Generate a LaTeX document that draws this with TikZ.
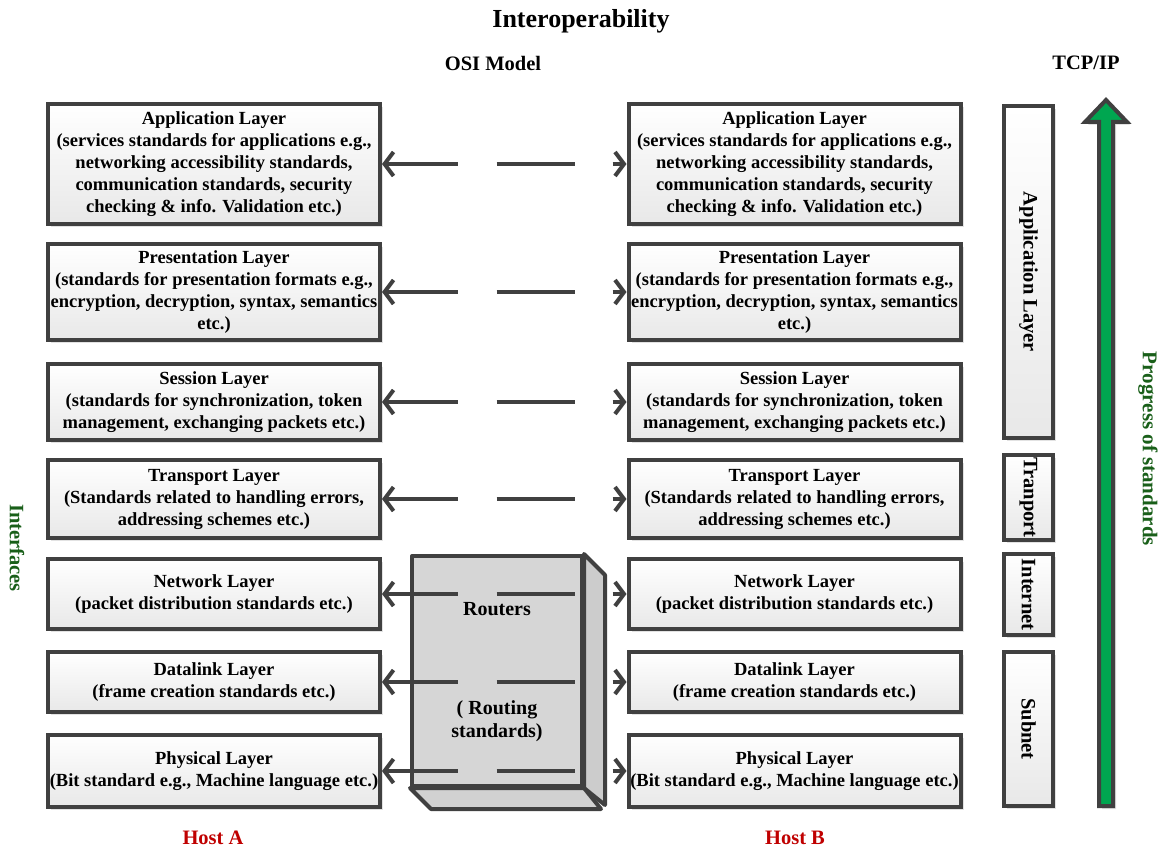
\documentclass[tikz,border=0pt]{standalone}
\usepackage{fontspec}
\usepackage{graphicx}
\setmainfont{Liberation Serif}
\usetikzlibrary{arrows.meta,shadows}
\definecolor{edge}{RGB}{64,64,64}
\definecolor{dgreen}{RGB}{25,95,25}
\definecolor{agreen}{RGB}{0,166,80}
\definecolor{hostred}{RGB}{192,0,0}
\begin{document}
\begin{tikzpicture}[x=1pt,y=-1pt,
  layer/.style={draw=edge, line width=4pt, top color=white, bottom color=black!9,
    minimum width=332pt, inner sep=0pt, align=center,
    font=\fontsize{18.5}{22}\selectfont\bfseries,
    drop shadow={shadow xshift=3pt,shadow yshift=-3pt,fill=black!22}},
  tcpbox/.style={draw=edge, line width=4pt, top color=white, bottom color=black!9,
    minimum width=49pt, inner sep=0pt,
    font=\fontsize{20.5}{24}\selectfont\bfseries,
    drop shadow={shadow xshift=3pt,shadow yshift=-3pt,fill=black!22}},
  conn/.style={draw=edge, line width=4pt,
    {Straight Barb[length=9pt,width=24pt]}-{Straight Barb[length=9pt,width=24pt]},
    dash pattern=on 71pt off 39pt on 78pt off 38pt on 60pt off 1pt},
  face/.style={draw=edge, line width=4pt, line join=round},
  head/.style={font=\fontsize{20.5}{24}\selectfont\bfseries, inner sep=0pt},
  rtext/.style={font=\fontsize{20}{23}\selectfont\bfseries, inner sep=0pt, align=center}
]
\useasboundingbox (0,0) rectangle (1161,848);
\fill[white] (0,0) rectangle (1161,848);

% titles
\node[font=\fontsize{26}{30}\selectfont\bfseries, inner sep=0pt] (title) at (581,21) {Interoperability};
\node[head] (osi) at (493,63) {OSI Model};
\node[head] (tcp) at (1086,63) {TCP/IP};

% routers cube
\node[face, fill=black!16, minimum width=170pt, minimum height=230pt, inner sep=0pt] (rt) at (497,671) {};
\draw[face, fill=black!20] (rt.north east) -- ++(21,21) -- ++(0,230) -- (rt.south east) -- cycle;
\draw[face, fill=black!18] (rt.south west) -- ++(21,21) -- ++(170,0) -- (rt.south east) -- cycle;
\node[rtext] (rt1) at (497,609) {Routers};
\node[rtext] (rt2) at (497,721) {( Routing\\standards)};

% Host A
\node[layer, minimum height=120pt] (LA) at (214,164) {Application Layer\\(services standards for applications e.g.,\\networking accessibility standards,\\communication standards, security\\checking \& info. Validation etc.)};
\node[layer, minimum height=96pt] (LP) at (214,292) {Presentation Layer\\(standards for presentation formats e.g.,\\encryption, decryption, syntax, semantics\\etc.)};
\node[layer, minimum height=76pt] (LS) at (214,402) {Session Layer\\(standards for synchronization, token\\management, exchanging packets etc.)};
\node[layer, minimum height=78pt] (LT) at (214,499) {Transport Layer\\(Standards related to handling errors,\\addressing schemes etc.)};
\node[layer, minimum height=70pt] (LN) at (214,594) {Network Layer\\(packet distribution standards etc.)};
\node[layer, minimum height=60pt] (LD) at (214,682) {Datalink Layer\\(frame creation standards etc.)};
\node[layer, minimum height=72pt] (LH) at (214,771) {Physical Layer\\(Bit standard e.g., Machine language etc.)};

% Host B
\node[layer, minimum height=120pt] (RA) at (794.5,164) {Application Layer\\(services standards for applications e.g.,\\networking accessibility standards,\\communication standards, security\\checking \& info. Validation etc.)};
\node[layer, minimum height=96pt] (RP) at (794.5,292) {Presentation Layer\\(standards for presentation formats e.g.,\\encryption, decryption, syntax, semantics\\etc.)};
\node[layer, minimum height=76pt] (RS) at (794.5,402) {Session Layer\\(standards for synchronization, token\\management, exchanging packets etc.)};
\node[layer, minimum height=78pt] (RT) at (794.5,499) {Transport Layer\\(Standards related to handling errors,\\addressing schemes etc.)};
\node[layer, minimum height=70pt] (RN) at (794.5,594) {Network Layer\\(packet distribution standards etc.)};
\node[layer, minimum height=60pt] (RD) at (794.5,682) {Datalink Layer\\(frame creation standards etc.)};
\node[layer, minimum height=72pt] (RH) at (794.5,771) {Physical Layer\\(Bit standard e.g., Machine language etc.)};

% connectors
\foreach \a/\b in {LA/RA,LP/RP,LS/RS,LT/RT,LN/RN,LD/RD,LH/RH}
  \draw[conn] (\a.east) -- (\b.west);

% TCP/IP column
\node[tcpbox, minimum height=332pt] (TA) at (1028.5,272) {\rotatebox{-90}{Application Layer}};
\node[tcpbox, minimum height=85pt] (TT) at (1028.5,497.5) {\rotatebox{-90}{Tranport}};
\node[tcpbox, minimum height=81pt] (TI) at (1028.5,594.5) {\rotatebox{-90}{Internet}};
\node[tcpbox, minimum height=154pt] (TS) at (1028.5,729) {\rotatebox{-90}{Subnet}};

% progress arrow
\draw[draw=edge, fill=agreen, line width=4pt, miter limit=10,
  drop shadow={shadow xshift=3pt,shadow yshift=-3pt,fill=black!22}]
  (1099,806) -- (1099,122) -- (1085,122) -- (1106,100) -- (1127,122) -- (1113,122) -- (1113,806) -- cycle;

% side labels
\node[font=\fontsize{21}{24}\selectfont\bfseries, text=dgreen, rotate=-90, inner sep=0pt] (prog) at (1148,449) {Progress of standards};
\node[font=\fontsize{20.5}{24}\selectfont\bfseries, text=dgreen, rotate=-90, inner sep=0pt] (intf) at (17,548) {Interfaces};

\node[head, text=hostred] (hA) at (213,838) {Host A};
\node[head, text=hostred] (hB) at (795,838) {Host B};
\end{tikzpicture}
\end{document}
